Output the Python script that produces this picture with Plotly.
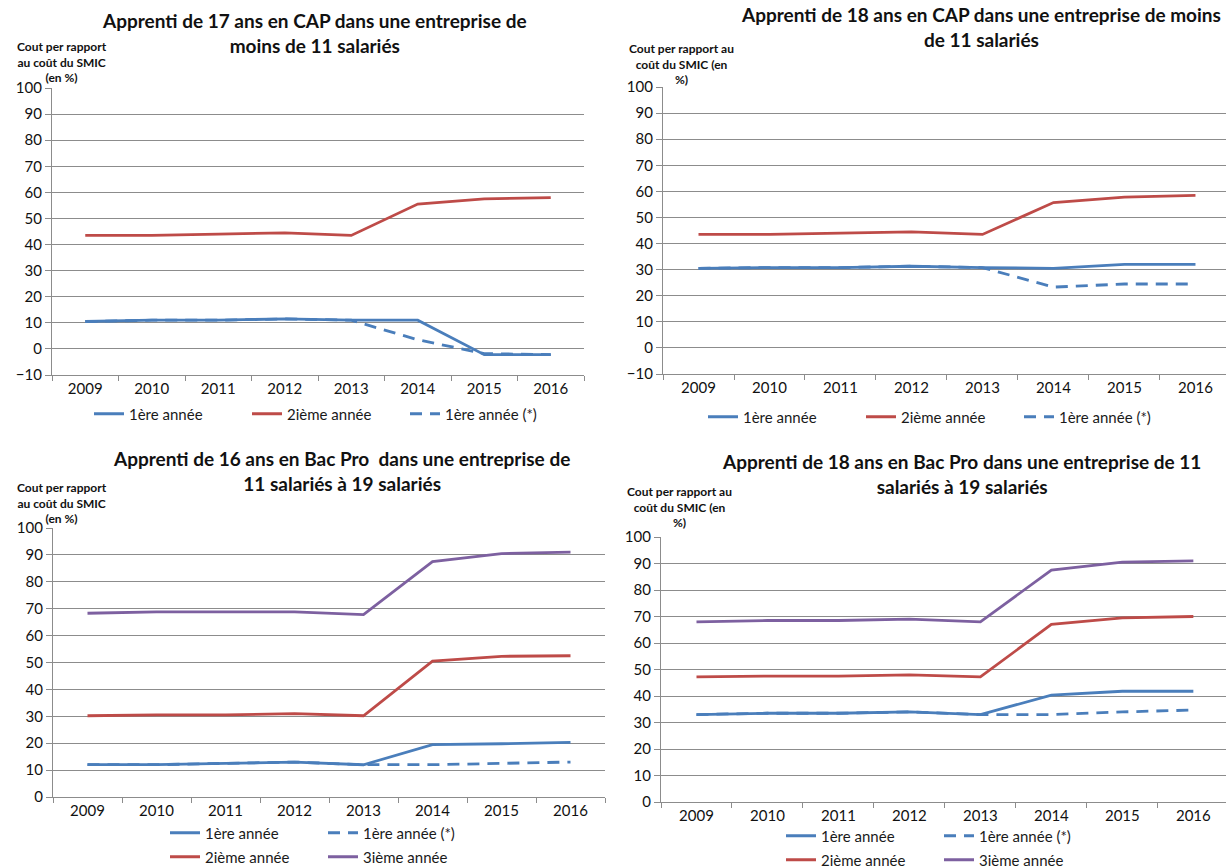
import plotly.graph_objects as go

W, H = 1226, 868

years = ["2009", "2010", "2011", "2012", "2013", "2014", "2015", "2016"]

# Panel 1 : 17 ans CAP, < 11 salariés
p1_annee1 = [10.5, 11, 11, 11.5, 11, 11, -2.2, -2.2]
p1_annee2 = [43.5, 43.5, 44, 44.5, 43.5, 55.5, 57.5, 58]
p1_annee1_star = [10.5, 11, 11, 11.5, 11, 3.5, -1.8, -2.2]

# Panel 2 : 18 ans CAP, < 11 salariés
p2_annee1 = [30.5, 30.8, 30.8, 31.3, 30.8, 30.5, 32, 32]
p2_annee2 = [43.5, 43.5, 44, 44.5, 43.5, 55.7, 57.8, 58.5]
p2_annee1_star = [30.5, 30.8, 30.8, 31.3, 30.8, 23.3, 24.5, 24.5]

# Panel 3 : 16 ans Bac Pro, 11 à 19 salariés
p3_annee1 = [12, 12, 12.5, 13, 12, 19.5, 19.8, 20.3]
p3_annee1_star = [12, 12, 12.5, 13, 12, 12, 12.5, 13]
p3_annee2 = [30.2, 30.5, 30.5, 31, 30.2, 50.5, 52.3, 52.5]
p3_annee3 = [68.3, 68.8, 68.8, 68.8, 67.8, 87.5, 90.5, 91]

# Panel 4 : 18 ans Bac Pro, 11 à 19 salariés
p4_annee1 = [33, 33.5, 33.5, 34, 33, 40.3, 41.8, 41.8]
p4_annee1_star = [33, 33.5, 33.5, 34, 33, 33, 34, 34.7]
p4_annee2 = [47.2, 47.5, 47.5, 48, 47.2, 67, 69.5, 70]
p4_annee3 = [68, 68.5, 68.5, 69, 68, 87.5, 90.5, 91]

titles = [
    "Apprenti de 17 ans en CAP dans une entreprise de<br>moins de 11 salariés",
    "Apprenti de 18 ans en CAP dans une entreprise de moins<br>de 11 salariés",
    "Apprenti de 16 ans en Bac Pro  dans une entreprise de<br>11 salariés à 19 salariés",
    "Apprenti de 18 ans en Bac Pro dans une entreprise de 11<br>salariés à 19 salariés",
]
ytitle_a = "Cout per rapport<br>au coût du SMIC<br>(en %)"
ytitle_b = "Cout per rapport au<br>coût du SMIC (en<br>%)"

L1 = "1ère année"
L2 = "2ième année"
L3 = "3ième année"
LS = "1ère année (*)"

BLUE = "#4A7EBB"
RED = "#BE4B48"
PURPLE = "#7D60A0"
GRID = "#8C8C8C"
FONT = "Lato"


def px(x):
    return x / W


def py(y):
    return 1 - y / H


fig = go.Figure()

# panel geometry in pixels: (x0, x1, ytop, ybottom, xrange_end, yrange)
panels = [
    (52, 584, 88, 375, 7.5, [-10, 100]),
    (663, 1226, 87, 374, 7.43, [-10, 100]),
    (53, 605, 528, 797, 7.5, [0, 100]),
    (661, 1226, 537, 802, 7.46, [0, 100]),
]

for i, (x0, x1, yt, yb, xe, yr) in enumerate(panels):
    n = "" if i == 0 else str(i + 1)
    fig.update_layout(**{
        "xaxis" + n: dict(
            domain=[px(x0), px(x1)], anchor="y" + n, type="category",
            range=[-0.5, xe], tickson="boundaries", ticks="outside",
            ticklen=5, tickcolor=GRID, tickwidth=1.3, showline=True,
            linecolor=GRID, linewidth=1.3, showgrid=False,
            tickfont=dict(family=FONT, size=15, color="#111111"),
            fixedrange=True,
        ),
        "yaxis" + n: dict(
            domain=[py(yb), py(yt)], anchor="x" + n, range=yr,
            dtick=10, tick0=0, ticks="outside", ticklen=6, tickcolor=GRID,
            tickwidth=1.3, showline=True, linecolor=GRID, linewidth=1.3,
            showgrid=True, gridcolor=GRID, gridwidth=1.3, zeroline=False,
            tickfont=dict(family=FONT, size=15, color="#111111"),
            fixedrange=True,
        ),
    })


def add(y, name, color, dash, panel, legend):
    n = "" if panel == 1 else str(panel)
    fig.add_trace(go.Scatter(
        x=years, y=y, name=name, mode="lines",
        line=dict(color=color, width=2.8, dash=dash),
        xaxis="x" + n, yaxis="y" + n, legend=legend,
    ))


DASH = "12px,8px"
add(p1_annee1, L1, BLUE, "solid", 1, "legend")
add(p1_annee2, L2, RED, "solid", 1, "legend")
add(p1_annee1_star, LS, BLUE, DASH, 1, "legend")

add(p2_annee1, L1, BLUE, "solid", 2, "legend2")
add(p2_annee2, L2, RED, "solid", 2, "legend2")
add(p2_annee1_star, LS, BLUE, DASH, 2, "legend2")

add(p3_annee1_star, LS, BLUE, DASH, 3, "legend3")
add(p3_annee1, L1, BLUE, "solid", 3, "legend3")
add(p3_annee2, L2, RED, "solid", 3, "legend4")
add(p3_annee3, L3, PURPLE, "solid", 3, "legend4")

add(p4_annee1_star, LS, BLUE, DASH, 4, "legend5")
add(p4_annee1, L1, BLUE, "solid", 4, "legend5")
add(p4_annee2, L2, RED, "solid", 4, "legend6")
add(p4_annee3, L3, PURPLE, "solid", 4, "legend6")

leg_font = dict(family=FONT, size=15, color="#1a1a1a")


def legend_cfg(xpx, ypx, ew, order="normal"):
    return dict(
        x=px(xpx), y=py(ypx), xanchor="left", yanchor="middle",
        orientation="h", bgcolor="rgba(0,0,0,0)", font=leg_font,
        entrywidth=ew, entrywidthmode="pixels", traceorder=order,
        itemclick=False, itemdoubleclick=False,
    )


fig.update_layout(
    legend=legend_cfg(89, 414, 113),
    legend2=legend_cfg(703, 417, 113),
    legend3=legend_cfg(165, 833, 113, "reversed"),
    legend4=legend_cfg(165, 857, 113),
    legend5=legend_cfg(781, 836, 113, "reversed"),
    legend6=legend_cfg(781, 860, 113),
)

ann = []
title_pos = [(314, 32.5), (981, 27.5), (341, 470.5), (962, 474)]
ytitle_pos = [(62, 62, ytitle_a), (681, 63.5, ytitle_b), (62, 503, ytitle_a), (679, 507, ytitle_b)]
for t, (cx, cy) in zip(titles, title_pos):
    ann.append(dict(
        text="<b>" + t.replace("<br>", "</b><br><b>") + "</b>",
        x=px(cx), y=py(cy), xref="paper", yref="paper",
        xanchor="center", yanchor="middle", showarrow=False,
        font=dict(family=FONT, size=19, color="#111111"),
    ))
for cx, cy, t in ytitle_pos:
    ann.append(dict(
        text="<b>" + t.replace("<br>", "</b><br><b>") + "</b>",
        x=px(cx), y=py(cy), xref="paper", yref="paper",
        xanchor="center", yanchor="middle", showarrow=False,
        font=dict(family=FONT, size=12, color="#111111"),
    ))

fig.update_layout(
    width=W, height=H,
    margin=dict(l=0, r=0, t=0, b=0, autoexpand=False),
    paper_bgcolor="white", plot_bgcolor="white",
    annotations=ann, showlegend=True,
    font=dict(family=FONT),
)

fig.write_html(
    "out.html",
    config={"displayModeBar": False},
    post_script="document.body.style.margin='0';document.body.style.overflow='hidden';",
)
